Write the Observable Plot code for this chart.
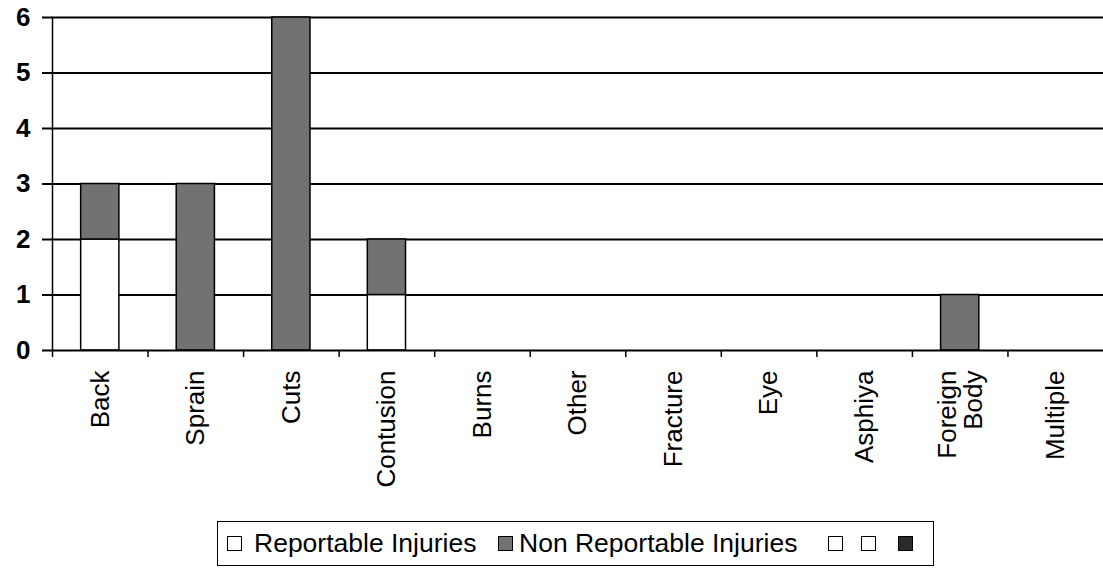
<!DOCTYPE html>
<html>
<head>
<meta charset="utf-8">
<script src="https://cdn.jsdelivr.net/npm/d3@7"></script>
<script src="https://cdn.jsdelivr.net/npm/@observablehq/plot@0.6"></script>
<style>
  html, body { margin: 0; padding: 0; background: #fff; }
  #wrap { position: relative; width: 1103px; height: 568px; font-family: "Liberation Sans", Arial, sans-serif; }
  #legend { position: absolute; left: 217px; top: 521px; width: 715px; height: 43px; border: 1.5px solid #000;
            font-size: 26.5px; color: #000; box-sizing: content-box; }
  .sw { position: absolute; top: 14px; width: 15px; height: 15px; border: 1.5px solid #000; box-sizing: border-box; }
  .tx { position: absolute; top: 5px; line-height: 32px; white-space: nowrap; }
</style>
</head>
<body>
<div id="wrap"></div>
<script>
const categories = ["Back", "Sprain", "Cuts", "Contusion", "Burns", "Other", "Fracture", "Eye", "Asphiya", "Foreign\nBody", "Multiple"];
const reportable = [2, 0, 0, 1, 0, 0, 0, 0, 0, 0, 0];
const nonReportable = [1, 3, 6, 1, 0, 0, 0, 0, 0, 1, 0];
const seriesNames = ["Reportable Injuries", "Non Reportable Injuries"];
const seriesColors = ["#ffffff", "#727272"];
const yTicks = [0, 1, 2, 3, 4, 5, 6];

const table = [];
categories.forEach((c, i) => {
  table.push({cat: c, series: seriesNames[0], value: reportable[i]});
  table.push({cat: c, series: seriesNames[1], value: nonReportable[i]});
});

const W = 1103, H = 516, ML = 52, MR = 0;
const step = (W - ML - MR) / categories.length;

const chart = Plot.plot({
  width: W,
  height: H,
  marginLeft: ML,
  marginRight: MR,
  marginTop: 17,
  marginBottom: 166,
  style: {fontFamily: "'Liberation Sans', Arial, sans-serif", fontSize: "24px", color: "#000", background: "#fff"},
  x: {domain: categories, padding: 0.6, paddingOuter: 0.3, round: false, label: null},
  y: {domain: [0, 6], label: null},
  color: {domain: seriesNames, range: seriesColors},
  marks: [
    Plot.ruleY(yTicks.slice(1), {stroke: "#000", strokeWidth: 2}),
    Plot.barY(table, {x: "cat", y: "value", fill: "series", stroke: "#000", strokeWidth: 1.5,
      filter: d => d.value > 0, order: seriesNames}),
    Plot.ruleY([0], {stroke: "#000", strokeWidth: 2}),
    Plot.frame({anchor: "left", stroke: "#000", strokeWidth: 1.5}),
    Plot.axisY({ticks: yTicks, tickSize: 10, tickPadding: 12, tickFormat: d3.format("d"),
      fontWeight: "bold", fontSize: 26, strokeWidth: 2, label: null}),
    Plot.axisX({tickSize: 7, tickFormat: () => "", dx: -step / 2, strokeWidth: 1.5, label: null}),
    Plot.axisX({tickSize: 0, tickRotate: -90, tickPadding: 20, fontSize: 26, label: null})
  ]
});

const wrap = document.getElementById("wrap");
wrap.appendChild(chart);

const legend = document.createElement("div");
legend.id = "legend";
const L = 217;
const sq = (fill, x) => `<span class="sw" style="background:${fill};left:${x - L}px"></span>`;
const tx = (t, x) => `<span class="tx" style="left:${x - L}px">${t}</span>`;
legend.innerHTML =
  sq(seriesColors[0], 226) + tx(seriesNames[0], 253) +
  sq(seriesColors[1], 497) + tx(seriesNames[1], 518) +
  sq("#ffffff", 827) + sq("#ffffff", 860) + sq("#2a2a2a", 897);
wrap.appendChild(legend);
</script>
</body>
</html>
